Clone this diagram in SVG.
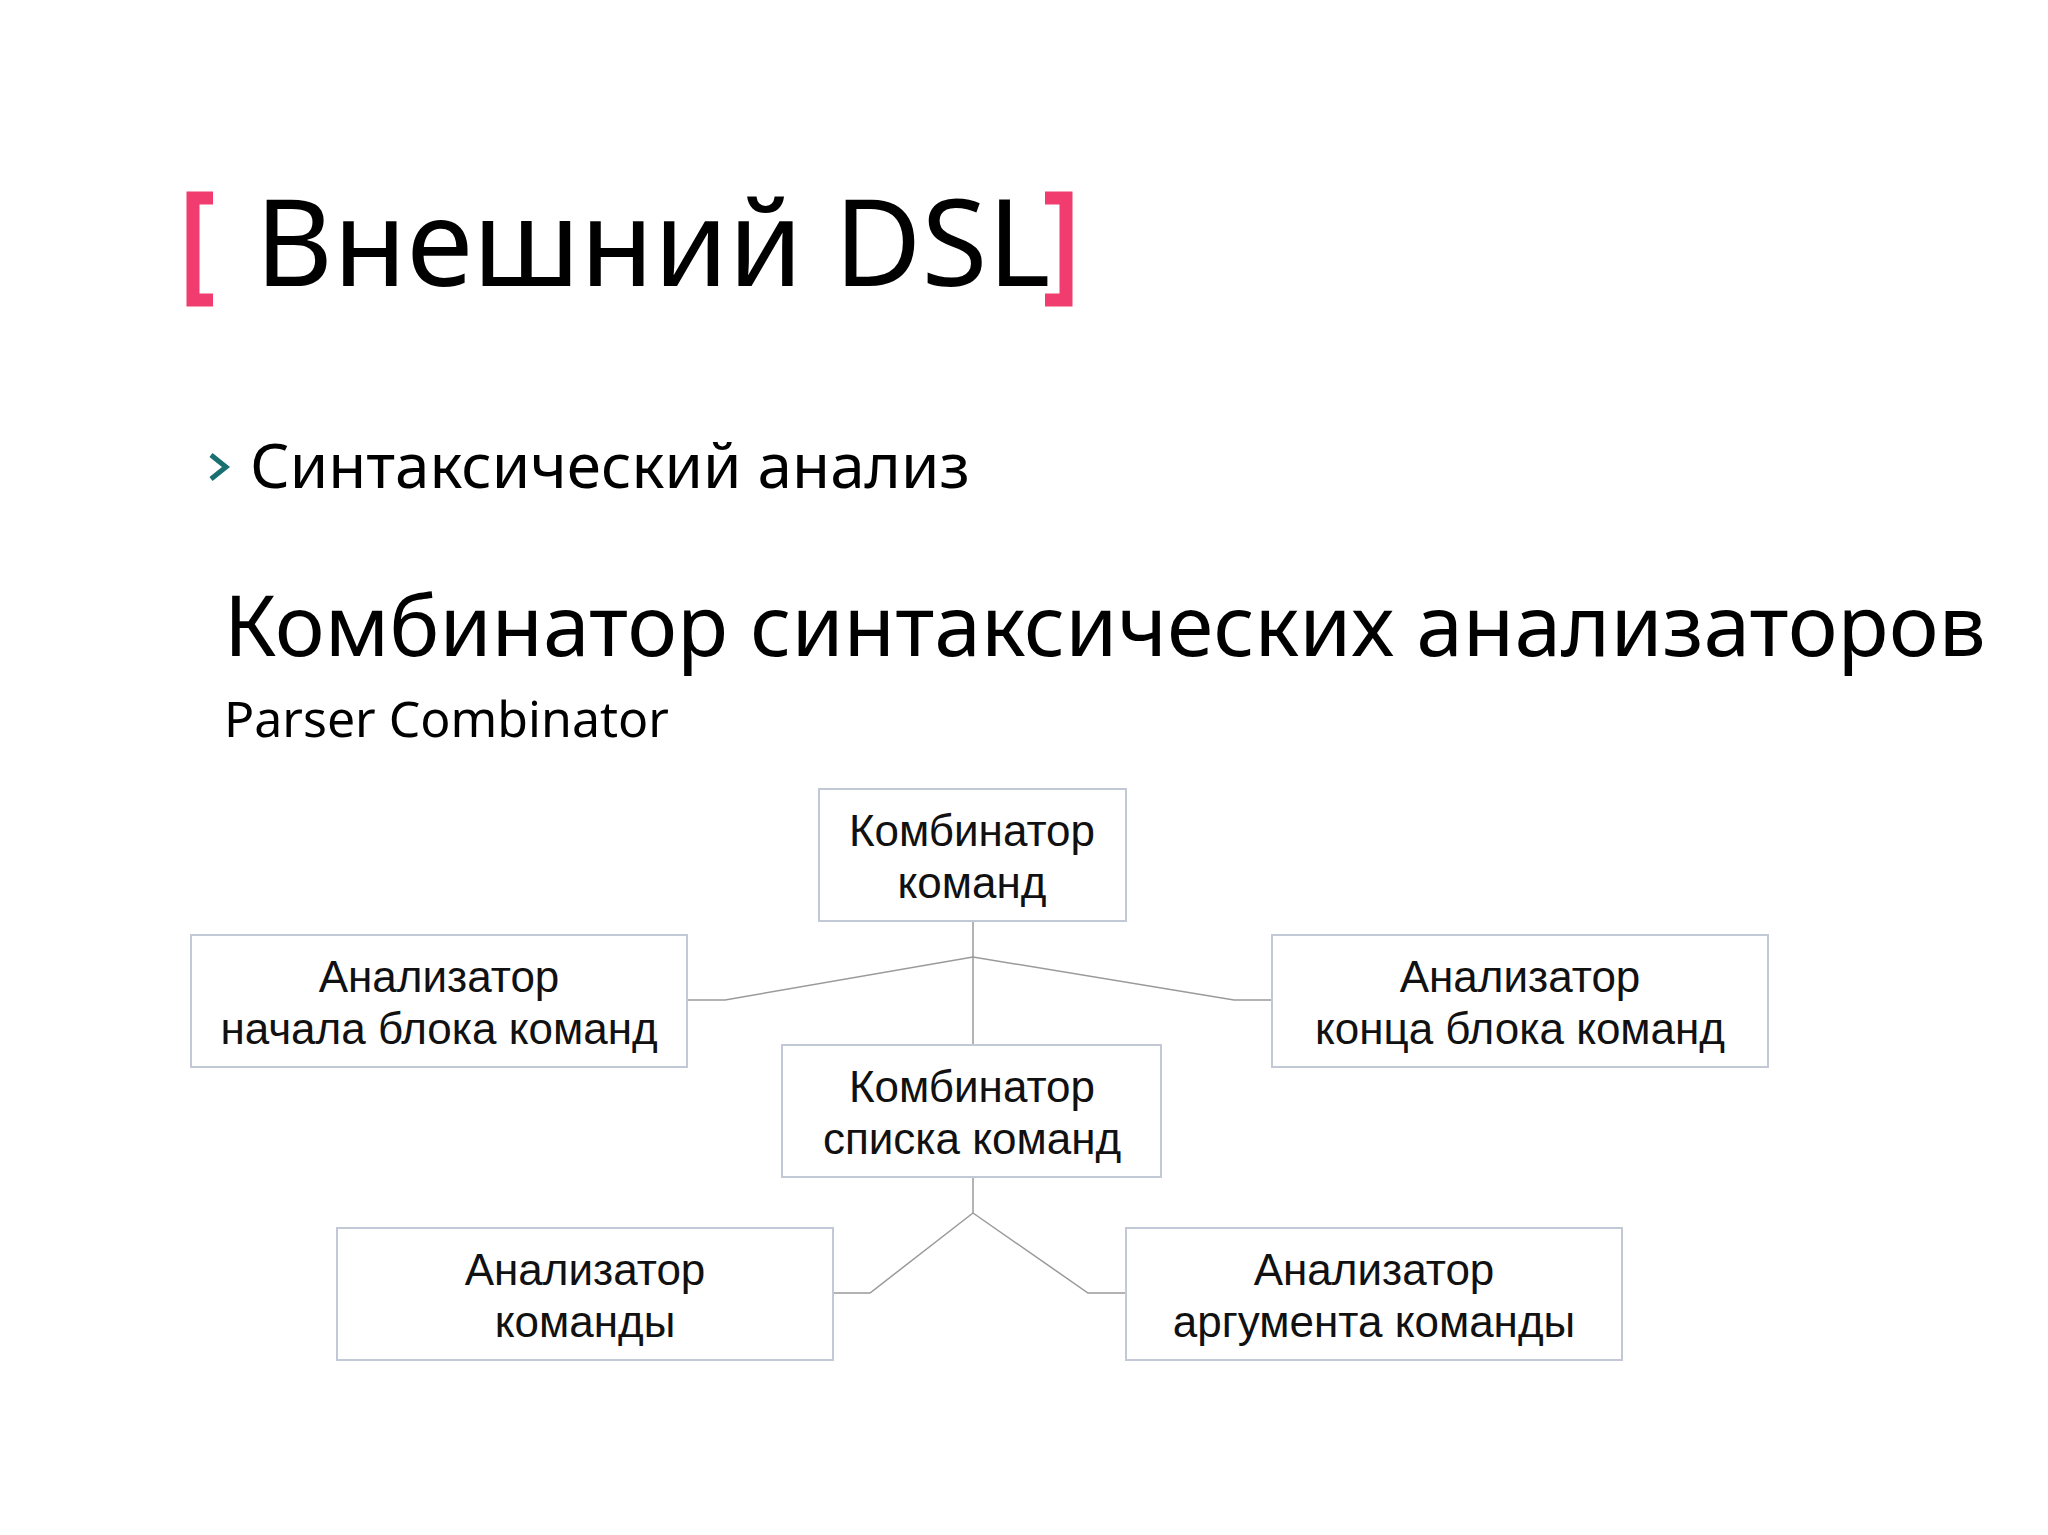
<svg xmlns="http://www.w3.org/2000/svg" width="2048" height="1535" viewBox="0 0 2048 1535">
<style>
.h{font-family:"Noto Sans","DejaVu Sans",sans-serif;fill:#000}
.b rect{fill:#fff;stroke:#c2c8d6;stroke-width:2}
.b text{font-family:"Liberation Sans",Arial,sans-serif;font-size:44px;fill:#111;text-anchor:middle}
.c{fill:none;stroke:#9a9a9a;stroke-width:1.5}
</style>
<rect width="2048" height="1535" fill="#fff"/>
<g id="title">
<path d="M213,198 H193 V300 H213" fill="none" stroke="#f03c6e" stroke-width="13"/>
<text class="h" x="255" y="286" font-size="120">Внешний DSL</text>
<path d="M1045,198 H1066 V300 H1045" fill="none" stroke="#f03c6e" stroke-width="13"/>
</g>
<g id="bullet">
<path d="M211,455 L226,467 L211,479" fill="none" stroke="#1a7070" stroke-width="5"/>
<text class="h" x="250" y="488" font-size="62">Синтаксический анализ</text>
</g>
<text class="h" x="224" y="656" font-size="84">Комбинатор синтаксических анализаторов</text>
<text class="h" x="224" y="737" font-size="50">Parser Combinator</text>
<g id="connectors" class="c">
<path d="M973,921 V1045"/>
<path d="M687,1000 H725 L973,957 L1234,1000 H1272"/>
<path d="M973,1177 V1213 L870,1293 H833"/>
<path d="M973,1213 L1088,1293 H1126"/>
</g>
<g id="n1" class="b"><rect x="819" y="789" width="307" height="132"/><text x="972" y="846">Комбинатор</text><text x="972" y="898">команд</text></g>
<g id="n2" class="b"><rect x="191" y="935" width="496" height="132"/><text x="439" y="992">Анализатор</text><text x="439" y="1044">начала блока команд</text></g>
<g id="n3" class="b"><rect x="1272" y="935" width="496" height="132"/><text x="1520" y="992">Анализатор</text><text x="1520" y="1044">конца блока команд</text></g>
<g id="n4" class="b"><rect x="782" y="1045" width="379" height="132"/><text x="972" y="1102">Комбинатор</text><text x="972" y="1154">списка команд</text></g>
<g id="n5" class="b"><rect x="337" y="1228" width="496" height="132"/><text x="585" y="1285">Анализатор</text><text x="585" y="1337">команды</text></g>
<g id="n6" class="b"><rect x="1126" y="1228" width="496" height="132"/><text x="1374" y="1285">Анализатор</text><text x="1374" y="1337">аргумента команды</text></g>
</svg>
